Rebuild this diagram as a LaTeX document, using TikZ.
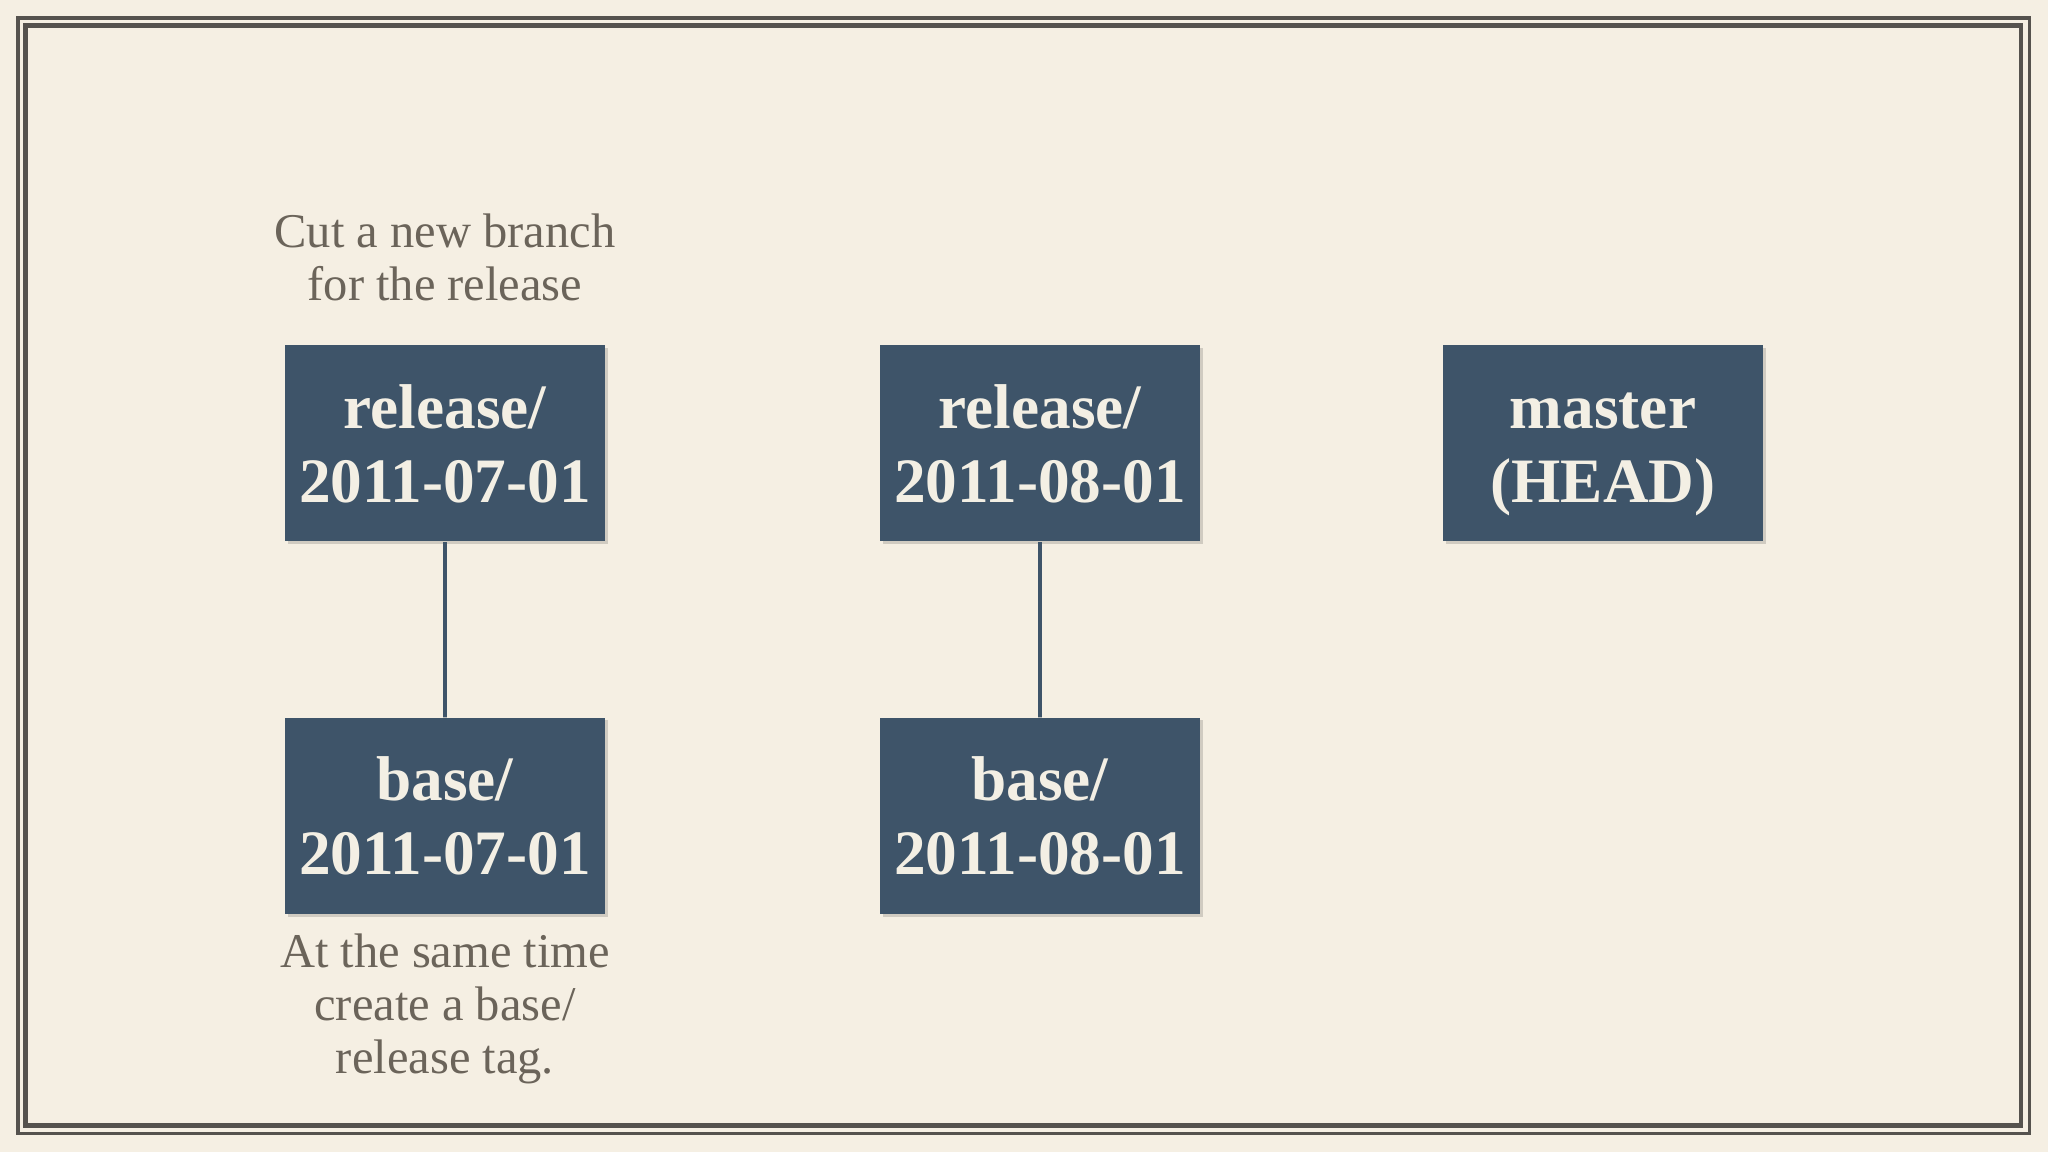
\documentclass[tikz,border=0pt]{standalone}
\usepackage{fontspec}
\setmainfont{Liberation Serif}
\usetikzlibrary{positioning,shadows}
\definecolor{parchment}{HTML}{F5EFE3}
\definecolor{frame}{HTML}{55524E}
\definecolor{slate}{HTML}{3E5469}
\definecolor{cream}{HTML}{F3EFE4}
\definecolor{ink}{HTML}{6B645A}
\tikzset{
  ref/.style={rectangle, fill=slate, text=cream, minimum width=3.2cm, minimum height=1.96cm,
    inner sep=0pt, align=center, font=\bfseries\fontsize{18}{21}\selectfont,
    drop shadow={shadow xshift=0.025cm, shadow yshift=-0.025cm, fill=black, opacity=0.15}},
  note/.style={text=ink, align=center, inner sep=0pt, font=\fontsize{13.8}{15.1}\selectfont}
}
\begin{document}
\begin{tikzpicture}[level distance=3.725cm, edge from parent/.style={draw=slate, line width=1.1pt}]
\fill[parchment] (0,0) rectangle (20.48,-11.52);
\useasboundingbox (0,0) rectangle (20.48,-11.52);
\draw[frame, line width=1.1pt] (0.18,-0.18) rectangle (20.295,-11.335);
\draw[frame, line width=1.4pt] (0.255,-0.255) rectangle (20.21,-11.255);
\node [ref] (rel0701) at (4.45,-4.435) {release/\\2011-07-01}
  child {
    node [ref] (base0701) {base/\\2011-07-01}
  };
\node [ref] (rel0801) at (10.40,-4.435) {release/\\2011-08-01}
  child {
    node [ref] (base0801) {base/\\2011-08-01}
  };
\node [ref] (master) at (16.03,-4.435) {master\vphantom{l}\\\smash{(HEAD)}};
\node [note, above=0.43cm of rel0701] (cut) {Cut a new branch\\for the release};
\node [note, below=0.18cm of base0701] (tag) {At the same time\\create a base/\\release tag.};
\end{tikzpicture}
\end{document}
